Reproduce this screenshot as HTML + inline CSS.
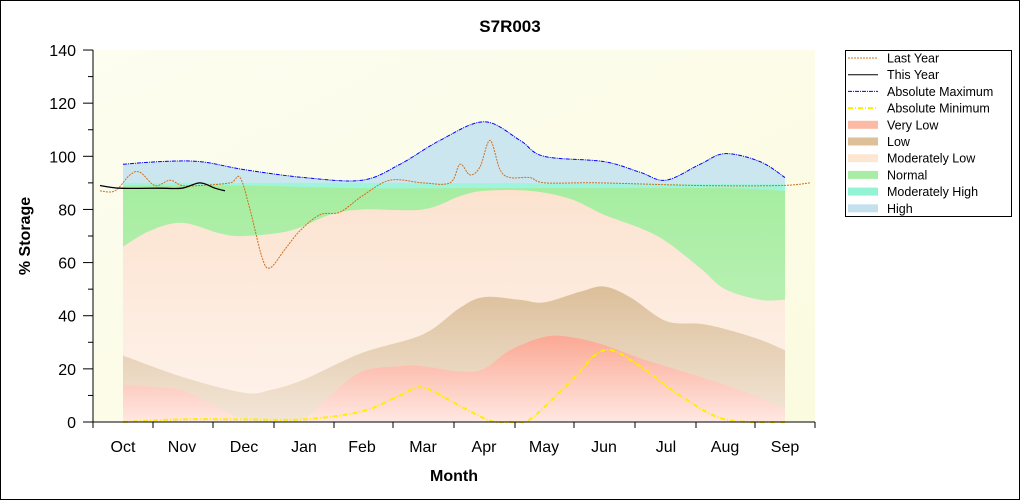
<!DOCTYPE html>
<html><head><meta charset="utf-8"><style>
body{margin:0;background:#fff;}
svg{display:block;font-family:"Liberation Sans",Arial,sans-serif;}
</style></head><body>
<svg id="s" width="1020" height="500" xmlns="http://www.w3.org/2000/svg">
<defs>
<linearGradient id="bg" x1="0" y1="0" x2="1" y2="1"><stop offset="0" stop-color="#fdfdf0"/><stop offset="1" stop-color="#fbfbe0"/></linearGradient>
<clipPath id="cp"><rect x="93" y="40" width="730" height="383"/></clipPath>
<linearGradient id="gvl" x1="0" y1="0" x2="0" y2="1"><stop offset="0" stop-color="#fca894"/><stop offset="1" stop-color="#fee8e2"/></linearGradient>
<linearGradient id="glo" x1="0" y1="0" x2="0" y2="1"><stop offset="0" stop-color="#dcbf9a"/><stop offset="1" stop-color="#f3e6d8"/></linearGradient>
<linearGradient id="gml" x1="0" y1="0" x2="0" y2="1"><stop offset="0" stop-color="#fce3d0"/><stop offset="1" stop-color="#fef3ec"/></linearGradient>
<linearGradient id="gno" x1="0" y1="0" x2="0" y2="1"><stop offset="0" stop-color="#a6eda0"/><stop offset="1" stop-color="#c8f3c4"/></linearGradient>
</defs>
<rect x="0.5" y="0.5" width="1019" height="499" fill="#fff" stroke="#000"/>
<rect x="93" y="50" width="722" height="372" fill="url(#bg)"/>
<g id="g" clip-path="url(#cp)"></g>
<text x="510" y="32" font-size="17" font-weight="bold" text-anchor="middle">S7R003</text>
<text x="454" y="481" font-size="16" font-weight="bold" text-anchor="middle">Month</text>
<text transform="translate(30,236) rotate(-90)" font-size="16" font-weight="bold" text-anchor="middle">% Storage</text>
<g id="ax"></g>
<rect x="845.5" y="50.5" width="166" height="166" fill="#fff" stroke="#000"/>
<g font-size="12.5" fill="#000" id="lg"></g>
</svg>
<script>
const Y=v=>422-v*2.657;
function path(pts){let p=pts.map(a=>[a[0],Y(a[1])]);let d="M"+p[0][0]+","+p[0][1];
for(let i=0;i<p.length-1;i++){const p0=p[i-1]||p[i],p1=p[i],p2=p[i+1],p3=p[i+2]||p2;
d+=` C${p1[0]+(p2[0]-p0[0])/6},${p1[1]+(p2[1]-p0[1])/6} ${p2[0]-(p3[0]-p1[0])/6},${p2[1]-(p3[1]-p1[1])/6} ${p2[0]},${p2[1]}`;}return d;}
function area(pts,fill){return `<path d="${path(pts)} L${pts[pts.length-1][0]},422 L${pts[0][0]},422 Z" fill="${fill}"/>`;}
const hi=[[123,97],[160,98],[200,98],[244,95],[304,92],[362,91],[400,97],[440,106],[484,113],[520,106],[544,100],[604,98],[640,94],[666,91],[700,97],[725,101],[760,98],[785,92]];
const mh=[[123,90],[400,90],[785,89.5]];
const no=[[123,89],[244,89],[362,88],[484,88],[604,88],[725,88],[785,87]];
const ml=[[123,66],[150,72],[182,75],[220,71],[244,70],[290,72],[330,78],[362,80],[423,80],[460,85],[484,87],[530,87],[570,84],[604,78],[640,73],[666,68],[700,58],[725,50],[760,46],[785,46]];
const lo=[[123,25],[182,17],[244,11],[270,12],[304,16],[362,26],[423,33],[460,43],[484,47],[520,46],[544,45],[580,49],[604,51],[630,47],[666,38],[700,37],[725,35],[760,31],[785,27]];
const vl=[[123,14],[160,13],[182,12],[210,7],[244,1],[280,0],[304,1],[330,10],[362,19],[400,21],[423,21],[460,19],[484,20],[510,27],[544,32],[570,32],[604,29],[640,24],[666,21],[700,17],[725,14],[760,9],[785,5]];
const mn=[[123,0],[182,1],[244,1],[304,1],[362,4],[400,10],[423,13],[460,6],[490,0.5],[510,0],[530,1],[570,15],[604,27],[640,21],[680,10],[725,1],[785,0]];
const ly=[[100,87],[115,87],[130,93],[140,94],[155,89],[170,91],[182,89],[200,89],[230,90],[240,92],[250,80],[262,62],[270,58],[285,65],[300,72],[320,78],[340,79],[362,85],[390,91],[423,90],[450,90],[460,97],[470,93],[480,96],[490,106],[500,95],[510,92],[530,92],[545,90],[600,90],[700,89],[780,89],[810,90]];
const ty=[[100,89],[120,88],[160,88],[182,88],[200,90],[215,88],[225,87]];
let g="";
g+=area(hi,"#cce6ef")+area(mh,"#9ff5dc")+area(no,"url(#gno)")+area(ml,"url(#gml)")+area(lo,"url(#glo)")+area(vl,"url(#gvl)");
g+=`<path d="${path(hi)}" fill="none" stroke="#0000ff" stroke-dasharray="4,1,1,1"/>`;
g+=`<path d="${path(mn)}" fill="none" stroke="#ffee00" stroke-width="2" stroke-dasharray="5,2,1,2"/>`;
g+=`<path d="${path(ly)}" fill="none" stroke="#d07020" stroke-dasharray="2,1"/>`;
g+=`<path d="${path(ty)}" fill="none" stroke="#000" stroke-width="1.3"/>`;
document.getElementById("g").innerHTML=g;
let a=`<line x1="93" y1="50" x2="93" y2="422" stroke="#000"/><line x1="93" y1="422" x2="815" y2="422" stroke="#000"/>`;
for(let v=0;v<=140;v+=10){const y=Y(v);a+=`<line x1="${v%20?88:83}" y1="${y}" x2="93" y2="${y}" stroke="#000"/>`;if(v%20==0)a+=`<text x="76" y="${y+6}" font-size="16" text-anchor="end">${v}</text>`;}
const m=["Oct","Nov","Dec","Jan","Feb","Mar","Apr","May","Jun","Jul","Aug","Sep"],mx=[123,182,244,304,362,423,484,544,604,666,725,785];
[93,153,213,274,334,393,454,515,574,635,696,755,815].forEach(x=>a+=`<line x1="${x}" y1="422" x2="${x}" y2="428" stroke="#000"/>`);
m.forEach((t,i)=>a+=`<text x="${mx[i]}" y="452" font-size="16" text-anchor="middle">${t}</text>`);
document.getElementById("ax").innerHTML=a;
const L=[["Last Year","l","#d07020","2,1"],["This Year","l","#000",""],["Absolute Maximum","l","#0000ff","4,1,1,1"],["Absolute Minimum","l","#ffee00","5,2,1,2"],["Very Low","b","#fcb9a4"],["Low","b","#ddbf98"],["Moderately Low","b","#fde6d2"],["Normal","b","#a9eca4"],["Moderately High","b","#92f3d5"],["High","b","#c5e1ee"]];
let l="";L.forEach((e,i)=>{const y=58+i*16.7;
if(e[1]=="l")l+=`<line x1="848" y1="${y}" x2="878" y2="${y}" stroke="${e[2]}" stroke-width="${i==3?2:1}" stroke-dasharray="${e[3]}"/>`;
else l+=`<rect x="848" y="${y-4}" width="30" height="8" fill="${e[2]}"/>`;
l+=`<text x="887" y="${y+4.5}">${e[0]}</text>`;});
document.getElementById("lg").innerHTML=l;
</script>
</body></html>
